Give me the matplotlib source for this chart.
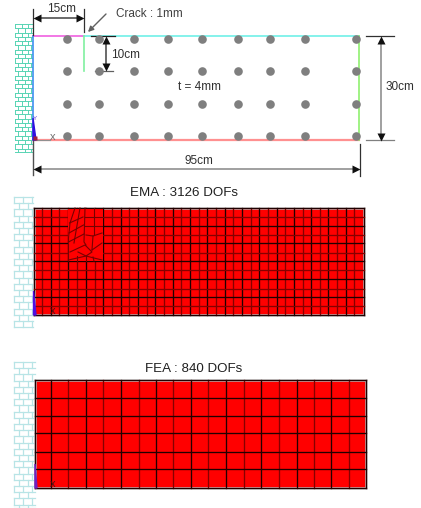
import matplotlib
matplotlib.use("Agg")
import matplotlib.pyplot as plt
from matplotlib.patches import Rectangle

plt.rcParams['font.family'] = ['Liberation Sans', 'DejaVu Sans']

# everything below is in picture pixels
hole_x = [67, 99, 134, 168, 202, 238, 270, 305, 356]
hole_y = [39, 71, 104, 136]

ema_x = [33.5, 42, 50.5, 59, 68, 77, 86, 94.5, 102.5, 111.5, 120.5, 129, 137.5, 146.5, 155,
         163.5, 172.5, 181, 190, 198.5, 207, 216, 224.5, 233, 242, 250.5, 259, 268, 276.5,
         285, 293.5, 302.5, 311, 319.5, 328, 337, 345.5, 353.5, 363.5]
ema_y = [208, 216.5, 225.5, 234.5, 243, 252.5, 261, 270, 279, 288.5, 297, 306, 315]
ema_dark = [0, 1, 0, 1, 0, 1, 0, 1, 0, 1, 0, 1, 0, 1, 0, 1, 0, 1, 0, 1, 0, 1, 0, 1, 0, 1, 0, 1,
            0, 1, 0, 1, 0, 1, 0, 1, 0, 1, 0]

fea_x = [35, 50.5, 68, 85.5, 102.5, 120.5, 138.5, 155.5, 173, 190.5, 208, 226, 243.5, 261,
         279, 296.5, 314, 331, 348.5, 366]
fea_y = [379.5, 398, 415.5, 433, 451.5, 469, 488]
fea_dark = [0, 0, 1, 0, 1, 0, 1, 0, 1, 0, 1, 0, 1, 0, 1, 0, 1, 0, 1, 0]

# crack zone of the EMA mesh, polylines
crack_lines = [
    [(75, 208), (70, 223), (68.5, 238), (68.5, 261)],
    [(80, 208), (74, 243)],
    [(85, 208), (84, 242), (86, 245)],
    [(69.5, 223), (83, 217)],
    [(69, 233), (83.5, 225)],
    [(68.5, 242), (84, 234)],
    [(70, 252), (85, 245), (92, 252), (86, 256), (78, 252)],
    [(68.5, 260), (86, 256), (102, 260)],
    [(92, 250), (102, 243)],
    [(86, 235), (93, 236), (102, 233)],
    [(93, 236), (92, 250)],
    [(77, 256), (77, 261)],
    [(86, 256), (86, 261)],
    [(93, 257), (94, 261)],
    [(94, 208), (94, 235)],
    [(85, 216.5), (102, 216.5)],
    [(85, 225.5), (102, 225.5)],
]

brick_green = '#58d4b4'
brick_blue = '#b8e4e6'


def draw_wall(ax, x0, x1, y0, y1, color, row, step, lw):
    y = y0
    n = 0
    while y < y1:
        ax.plot([x0, x1], [y, y], color=color, lw=lw)
        x = x0 + (step / 2 if n % 2 else 0)
        while x < x1:
            ax.plot([x, x], [y, min(y + row, y1)], color=color, lw=lw)
            x += step
        y += row
        n += 1
    ax.plot([x0, x1], [y1, y1], color=color, lw=lw)


def draw_mesh(ax, xs, ys, dark_x, dark_rows):
    ax.add_patch(Rectangle((xs[0], ys[0]), xs[-1] - xs[0], ys[-1] - ys[0], fc='#ff0000', ec='#c8c8c8', lw=1.8, zorder=2))
    for i, x in enumerate(xs):
        c = '#860000' if dark_x[i] else '#200000'
        ax.plot([x, x], [ys[0], ys[-1]], color=c, lw=0.95, zorder=3)
    for j, y in enumerate(ys):
        c = '#860000' if j % 2 and dark_rows else '#200000'
        ax.plot([xs[0], xs[-1]], [y, y], color=c, lw=0.95, zorder=3)


def dim_line(ax, p0, p1, c0, c1, color='#909090', ms=6):
    # dimension line with its two black heads placed by hand
    ax.plot([p0[0], p1[0]], [p0[1], p1[1]], color=color, lw=1.2)
    ax.plot(p0[0], p0[1], marker=c0, color='#101010', ms=ms, mec='none')
    ax.plot(p1[0], p1[1], marker=c1, color='#101010', ms=ms, mec='none')


fig = plt.figure(figsize=(4.21, 5.08), dpi=100)
ax = fig.add_axes([0, 0, 1, 1])
ax.set_xlim(0, 421)
ax.set_ylim(508, 0)
ax.axis('off')

# top panel
draw_wall(ax, 15, 32, 24, 152, brick_green, 4.3, 6.5, 0.7)
ax.plot([33, 84], [35.5, 35.5], color='#f060e0', lw=1.2)
ax.plot([84, 359], [35.5, 35.5], color='#70f0e8', lw=1.2)
ax.plot([33, 359], [140, 140], color='#ff9090', lw=1.6)
ax.plot([359, 359], [35.5, 140], color='#90f070', lw=1.2)
ax.plot([84, 84], [35.5, 71], color='#80f0a0', lw=1.2)
ax.plot([32.5, 32.5], [35.5, 140], color='#4090f0', lw=1.2)
ax.plot([32.5, 50], [140, 140], color='#909090', lw=0.8)
for hx in hole_x:
    for hy in hole_y:
        ax.plot(hx, hy, 'o', color='#7f7f7f', ms=6.2, mec='none', zorder=3)
ax.fill([33, 36, 33], [118, 140, 140], color='#3010e0', zorder=4)
ax.plot(34.5, 137.5, 's', color='#a02040', ms=2.5, mec='none', zorder=5)
ax.text(35, 118, 'Y', fontsize=4.5, color='#6040e0', ha='center', va='center', zorder=5)
ax.text(52.5, 137.5, 'x', fontsize=8, color='#707070', ha='center', va='center')

# dimensions
ax.plot([32.5, 32.5], [9, 35], color='#303030', lw=0.9)
ax.plot([83.5, 83.5], [9, 32], color='#303030', lw=0.9)
dim_line(ax, (37, 18), (80, 18), '<', '>', '#505050')
ax.text(62, 9, '15cm', fontsize=8.5, ha='center', va='center', color='#303030')
ax.text(116.5, 14, 'Crack : 1mm', fontsize=8.5, ha='left', va='center', color='#404040')
ax.annotate('', xy=(88, 32), xytext=(106, 14),
            arrowprops=dict(arrowstyle='-|>', color='#606060', lw=1.0, mutation_scale=8, shrinkA=0, shrinkB=0))
ax.plot([91, 115], [36, 36], color='#202020', lw=0.9)
ax.plot([95, 113], [71, 71], color='#606060', lw=0.9)
dim_line(ax, (106, 40), (106, 67), '^', 'v', '#505050')
ax.text(126, 55, '10cm', fontsize=8.5, ha='center', va='center', color='#303030')
ax.text(200, 87, 't = 4mm', fontsize=8.5, ha='center', va='center', color='#303030')
ax.plot([366, 394], [36, 36], color='#303030', lw=0.9)
ax.plot([366, 394], [139.5, 139.5], color='#808080', lw=0.9)
dim_line(ax, (380.5, 40), (380.5, 137), '^', 'v')
ax.text(399.5, 87, '30cm', fontsize=8.5, ha='center', va='center', color='#303030')
ax.plot([32.5, 32.5], [140, 175], color='#505050', lw=1.0)
ax.plot([359.5, 359.5], [144, 176], color='#303030', lw=0.9)
dim_line(ax, (37, 169), (356, 169), '<', '>')
ax.text(199, 161, '95cm', fontsize=8.5, ha='center', va='center', color='#303030')

# EMA panel
ax.text(184, 193, 'EMA : 3126 DOFs', fontsize=9.6, ha='center', va='center', color='#202020')
draw_wall(ax, 14, 33, 197, 327, brick_blue, 6.2, 9, 0.9)
draw_mesh(ax, ema_x, ema_y, ema_dark, True)
# clear the regular mesh where the crack refinement sits
ax.add_patch(Rectangle((68, 208.5), 34.5, 52.5, fc='#ff0000', ec='none', zorder=3.5))
for line in crack_lines:
    ax.plot([p[0] for p in line], [p[1] for p in line], color='#780000', lw=0.8, zorder=4)
ax.fill([33.5, 36, 33.5], [291, 315, 315], color='#5010e0', zorder=5)
ax.text(53, 311.5, 'x', fontsize=8, color='#501010', ha='center', va='center', zorder=5)

# FEA panel
ax.text(194, 369, 'FEA : 840 DOFs', fontsize=9.6, ha='center', va='center', color='#202020')
draw_wall(ax, 14, 35, 362, 508, brick_blue, 6.2, 9, 0.9)
draw_mesh(ax, fea_x, fea_y, fea_dark, False)
ax.fill([35, 37, 35], [464, 488, 488], color='#7020c0', zorder=5)
ax.text(53, 484, 'x', fontsize=8, color='#501010', ha='center', va='center', zorder=5)

fig.savefig('out.png', dpi=100)
